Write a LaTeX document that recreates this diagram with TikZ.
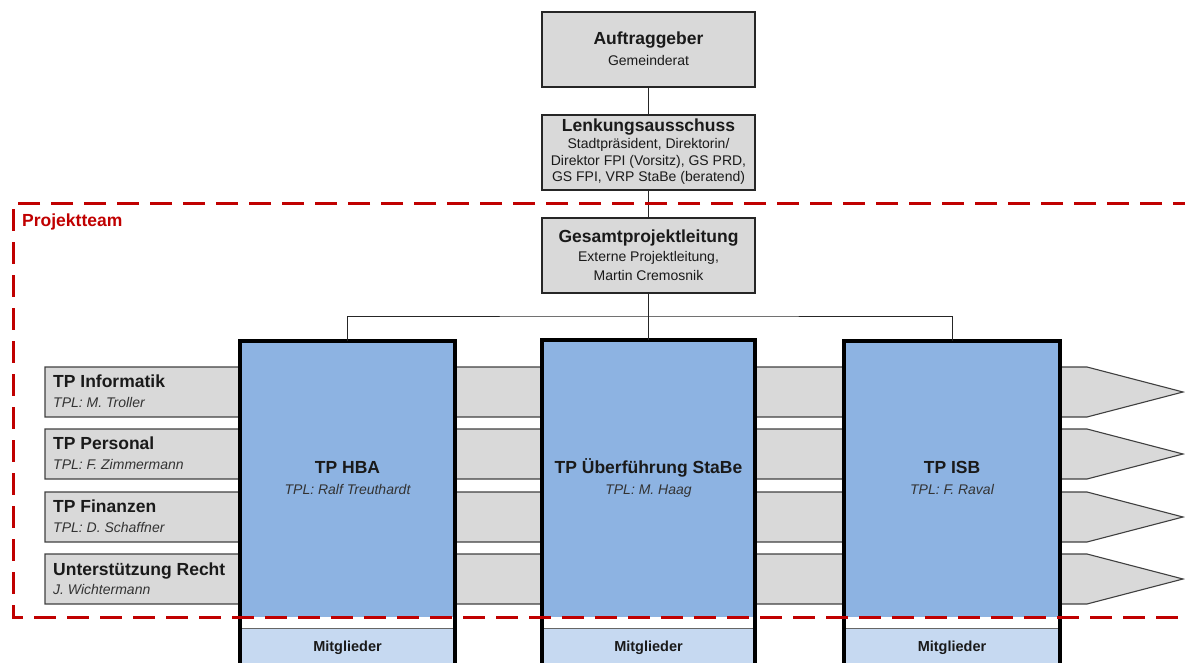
\documentclass[tikz,border=0pt]{standalone}
\usepackage{fontspec}
\setmainfont{Liberation Sans}
\definecolor{boxgray}{HTML}{D9D9D9}
\definecolor{tpblue}{HTML}{8DB3E2}
\definecolor{lightblue}{HTML}{C6D9F1}
\definecolor{dred}{HTML}{C00000}
\definecolor{txt}{HTML}{1A1A1A}
\begin{document}
\begin{tikzpicture}[x=1pt,y=-1pt,
  topbox/.style={draw=black!85, line width=1.2pt, fill=boxgray, minimum width=213pt, minimum height=75pt, inner sep=0pt},
  ttl/.style={font=\fontsize{17.5}{20}\selectfont\bfseries, text=txt, anchor=base, inner sep=0pt},
  subt/.style={font=\fontsize{14}{16.5}\selectfont, text=txt, anchor=base, inner sep=0pt},
  subit/.style={font=\fontsize{14}{16.5}\selectfont\itshape, text=black!80, anchor=base, inner sep=0pt},
  bar/.style={draw=black!75, line width=1.1pt, fill=boxgray},
  tpbox/.style={fill=tpblue, minimum height=276pt, inner sep=0pt},
  thickout/.style={draw=black, line width=3.5pt},
  mbox/.style={fill=lightblue, minimum height=38pt, inner sep=0pt, font=\fontsize{14.5}{16}\selectfont\bfseries, text=txt},
  conn/.style={draw=black!85, line width=1pt},
  team/.style={draw=dred, line width=3pt, dash pattern=on 22pt off 11pt}
]
\useasboundingbox (0,0) rectangle (1185,663);
\clip (0,0) rectangle (1185,663);

% chevron bars
\foreach \t in {367,429,492,554}{
  \draw[bar] (45,\t) -- (1087,\t) -- (1183,\t+25) -- (1087,\t+50) -- (45,\t+50) -- cycle;
}
\node[ttl, anchor=base west] at (53,387) {TP Informatik};
\node[subit, anchor=base west] at (53,407) {TPL: M. Troller};
\node[ttl, anchor=base west] at (53,449) {TP Personal};
\node[subit, anchor=base west] at (53,469) {TPL: F. Zimmermann};
\node[ttl, anchor=base west] at (53,512) {TP Finanzen};
\node[subit, anchor=base west] at (53,532) {TPL: D. Schaffner};
\node[ttl, anchor=base west] at (53,575) {Unterstützung Recht};
\node[subit, anchor=base west] at (53,594) {J. Wichtermann};

% top boxes
\node[topbox] (auf) at (648.5,49.5) {};
\node[ttl] at (648.5,45) {Auftraggeber};
\node[subt] at (648.5,66) {Gemeinderat};

\node[topbox] (lenk) at (648.5,152.5) {};
\node[ttl] at (648.5,132) {Lenkungsausschuss};
\node[subt] at (648.5,149) {Stadtpräsident, Direktorin/};
\node[subt] at (648.5,165.5) {Direktor FPI (Vorsitz), GS PRD,};
\node[subt] at (648.5,182) {GS FPI, VRP StaBe (beratend)};

\node[topbox] (gpl) at (648.5,255.5) {};
\node[ttl] at (648.5,242) {Gesamtprojektleitung};
\node[subt] at (648.5,261) {Externe Projektleitung,};
\node[subt] at (648.5,280) {Martin Cremosnik};

\draw[conn] (auf) -- (lenk);
\draw[conn] (lenk) -- (gpl);

% TP boxes
\node[tpbox, minimum width=215pt] (hba) at (347.5,479) {};
\node[tpbox, minimum width=213pt, minimum height=277pt] (ueb) at (648.5,478.5) {};
\node[tpbox, minimum width=216pt] (isb) at (952,479) {};

\node[mbox, minimum width=215pt] (mhba) at (347.5,648) {Mitglieder};
\node[mbox, minimum width=213pt] (mueb) at (648.5,648) {Mitglieder};
\node[mbox, minimum width=216pt] (misb) at (952,648) {Mitglieder};
\foreach \m in {mhba,mueb,misb}{
  \draw[black!60, line width=1pt] (\m.north west) -- (\m.north east);
}

\foreach \b in {hba,ueb,isb}{
  \draw[thickout] (\b.south west) ++(0,60) -- (\b.north west) -- (\b.north east) -- ++(0,340);
}

\node[ttl] at (347.5,473) {TP HBA};
\node[subit] at (347.5,494) {TPL: Ralf Treuthardt};
\node[ttl] at (648.5,473) {TP Überführung StaBe};
\node[subit] at (648.5,494) {TPL: M. Haag};
\node[ttl] at (952,473) {TP ISB};
\node[subit] at (952,494) {TPL: F. Raval};

% tree
\coordinate (bus) at (648.5,316);
\draw[conn] (gpl) -- (bus);
\draw[conn] (bus) -- (ueb.north);
\draw[conn] (hba.north) |- (bus) -| (isb.north);

% project team frame
\draw[team] (1195,203) -- (13,203) -- (13,617) -- (1195,617);
\node[ttl, anchor=base west, text=dred] (pt) at (22,226) {Projektteam};
\end{tikzpicture}
\end{document}
